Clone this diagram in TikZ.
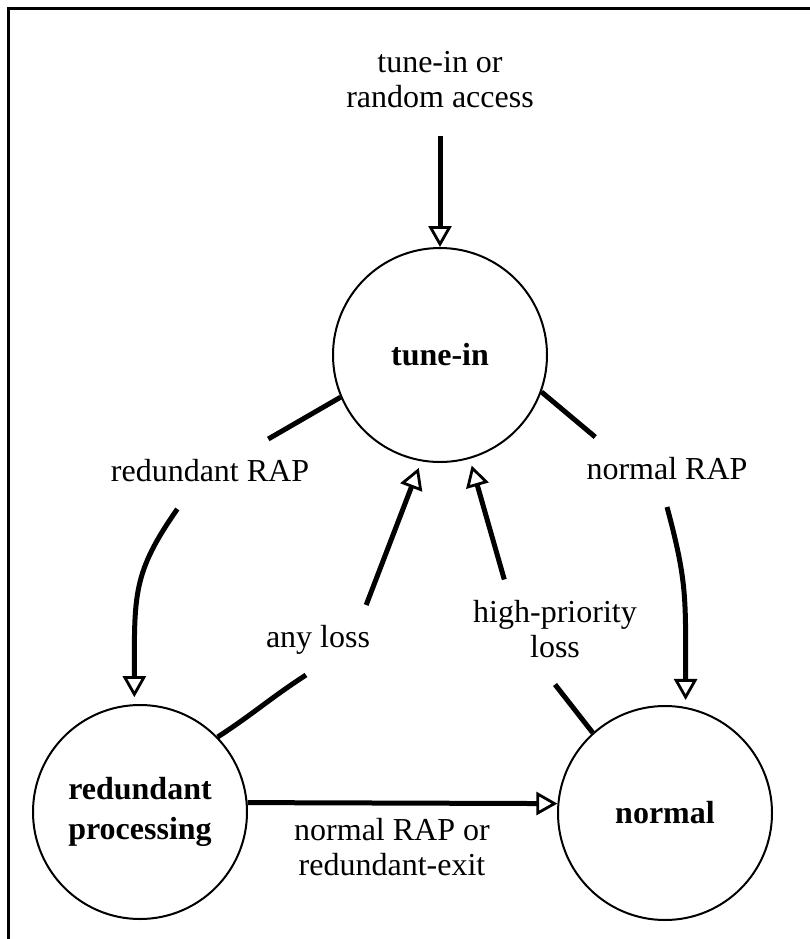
\documentclass[tikz,border=0pt]{standalone}
\usepackage{fontspec}
\setmainfont{Liberation Serif}
\usetikzlibrary{arrows.meta}

\begin{document}
\begin{tikzpicture}[x = 1pt, y = 1pt, line width = 5pt,
                      state/.style = {circle, draw, line width = 2pt, minimum size = 214pt, inner sep = 0pt, align = center, font = \fontsize{32}{40}\selectfont\bfseries},
                      lbl/.style = {inner sep = 18pt, align = center, text height = 22pt, text depth = 7pt, font = \fontsize{32}{35}\selectfont},
                      twoline/.style = {text height = 57pt},
                      hollow/.style = {-{Triangle[open, length = 21pt, width = 23pt, line width = 2.8pt]}},
                      spaced/.style = {shorten > = 7pt}]
    \useasboundingbox (0, 0) rectangle (810, -939);
    \draw [line width = 3pt] (8, -939) -- (8, -9) -- (810, -9);

    \node [state] (tunein) at (440, -355) {tune-in};
    \node [state] (redundant) at (140, -812) {redundant\\processing};
    \node [state] (normal) at (665, -813) {normal};

    \node [lbl, twoline] (lblEntry) at (440, -83) {tune-in or\\random access};
    \node [lbl] (lblRR) at (210, -474) {redundant RAP};
    \node [lbl] (lblNR) at (667, -472) {normal RAP};
    \node [lbl] (lblAny) at (318, -640) {any loss};
    \node [lbl, twoline] (lblHP) at (555, -632) {high-priority\\loss};
    \node [lbl, twoline] (lblExit) at (392, -850) {normal RAP or\\redundant-exit};

    \draw [hollow] (lblEntry) -- (tunein);
    \draw (tunein.203) -- (lblRR.31);
    \draw [hollow, spaced] (lblRR.227) to [out = 235, in = 90, in looseness = 1.4] (redundant.93);
    \draw (tunein.-20) -- (lblNR.154);
    \draw [hollow, spaced] (lblNR.south) to [out = -75, in = 90, in looseness = 1.4] (normal.79);
    \draw (redundant.44) to [out = 33, in = 213] (lblAny.-109);
    \draw [hollow, spaced] (lblAny.36) -- (tunein.-100);
    \draw (normal.132) -- (lblHP.south);
    \draw [hollow, spaced] (lblHP.134) -- (tunein.-74);
    \draw [hollow] (redundant.5) -- (normal.175);
\end{tikzpicture}
\end{document}
